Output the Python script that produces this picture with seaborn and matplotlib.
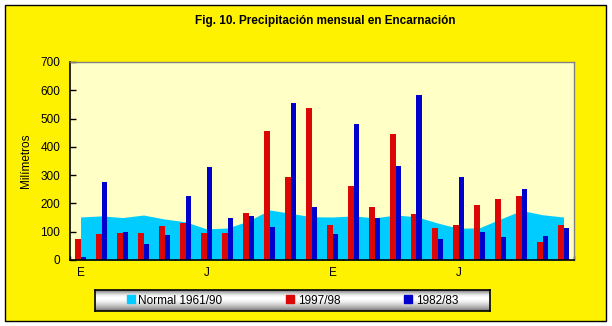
import numpy as np
import pandas as pd
import matplotlib
matplotlib.use("Agg")
import matplotlib.pyplot as plt
from matplotlib.lines import Line2D
from matplotlib.patches import Rectangle
import seaborn as sns

# Monthly precipitation (mm), two consecutive years, January to December
months = ["E", "F", "M", "A", "M", "J", "J", "A", "S", "O", "N", "D"] * 2
normal_6190 = [152, 156, 150, 159, 145, 135, 110, 113, 138, 177, 165, 153,
               152, 156, 149, 159, 153, 131, 112, 114, 145, 175, 160, 152]
rain_9798 = [75, 92, 96, 96, 120, 131, 96, 96, 166, 457, 294, 538,
             124, 262, 188, 446, 163, 113, 124, 195, 216, 227, 64, 124]
rain_8283 = [10, 276, 99, 57, 89, 227, 329, 149, 156, 117, 556, 188,
             92, 482, 149, 333, 584, 74, 294, 99, 81, 251, 85, 113]
series_names = ["Normal 1961/90", "1997/98", "1982/83"]
tick_labels = ["E", "J", "E", "J"]

YELLOW = "#FFF200"
PLOT_BG = "#FFFFC6"
CYAN = "#00CCFF"
RED = "#DD0606"
BLUE = "#0000CC"

sns.set_theme(style="white")
plt.rcParams["font.family"] = ["Liberation Sans", "DejaVu Sans"]
plt.rcParams.update({"text.color": "black", "axes.labelcolor": "black",
                     "xtick.color": "black", "ytick.color": "black"})

fig = plt.figure(figsize=(6.12, 3.26), dpi=100)
fig.patch.set_facecolor("white")
fig.patches.append(Rectangle((5 / 612, 1 - 321 / 326), 601 / 612, 316 / 326,
                             transform=fig.transFigure, facecolor=YELLOW,
                             edgecolor="black", linewidth=1.0, zorder=-10))

ax = fig.add_axes([70 / 612, 1 - 260 / 326, 504 / 612, 198 / 326])
ax.set_facecolor(PLOT_BG)

idx = np.arange(len(months))
df = pd.DataFrame({
    "pos": np.concatenate([idx, idx]),
    "mm": rain_9798 + rain_8283,
    "serie": [series_names[1]] * len(idx) + [series_names[2]] * len(idx),
})

ax.fill_between(idx, normal_6190, 0, color=CYAN, linewidth=0, zorder=1)
sns.barplot(data=df, x="pos", y="mm", hue="serie", order=list(idx),
            palette=[RED, BLUE], width=0.57, gap=0, saturation=1,
            native_scale=False, legend=False, ax=ax, zorder=2,
            edgecolor="none", linewidth=0)

ax.set_xlim(-0.5, len(months) - 0.5)
ax.set_ylim(0, 700)
ax.set_yticks(range(0, 701, 100))
ax.set_xticks([0, 6, 12, 18])
ax.set_xticklabels(tick_labels)
ax.set_xticks(np.arange(-0.5, len(months), 1), minor=True)
ax.tick_params(axis="x", which="major", length=0, pad=5, labelsize=8.5)
ax.tick_params(axis="x", which="minor", length=3, width=1, direction="in",
               color="black", bottom=True)
ax.tick_params(axis="y", length=4, width=1, direction="in", color="black",
               left=True, labelsize=8.5, pad=7)
ax.set_xlabel("")
ax.set_ylabel("Milímetros", fontsize=8.5, labelpad=6)

for side in ("left", "bottom"):
    ax.spines[side].set_color("black")
    ax.spines[side].set_linewidth(1.2)
for side in ("top", "right"):
    ax.spines[side].set_color("#808080")
    ax.spines[side].set_linewidth(1.0)
    ax.spines[side].set_visible(True)

fig.text(325.5 / 612, 1 - 21 / 326, "Fig. 10. Precipitación mensual en Encarnación",
         ha="center", va="center", fontsize=8.5, fontweight="bold",
         color="black")

# Legend strip with a metallic shading
lax = fig.add_axes([95 / 612, 1 - 311 / 326, 395 / 612, 21 / 326])
shade = np.array([0.55, 0.7, 0.85, 0.95, 1.0, 1.0, 0.97, 0.92, 0.85,
                  0.78, 0.7, 0.6, 0.5])
lax.imshow(np.repeat(shade[:, None], 2, axis=1), cmap="gray", vmin=0, vmax=1,
           aspect="auto", interpolation="bilinear", extent=(0, 1, 0, 1))
lax.set_xticks([])
lax.set_yticks([])
for s in lax.spines.values():
    s.set_color("black")
    s.set_linewidth(1.2)

handles = [Line2D([], [], marker="s", linestyle="none", markersize=6,
                  markerfacecolor=c, markeredgecolor=c)
           for c in (CYAN, RED, BLUE)]
lax.legend(handles, series_names, loc="center", ncol=3, frameon=False,
           fontsize=8.5, handlelength=0.7, handletextpad=0.3,
           columnspacing=5.4, borderpad=0, bbox_to_anchor=(0.5, 0.5),
           labelcolor="black")

fig.savefig("out.png", dpi=100, facecolor=fig.get_facecolor())
